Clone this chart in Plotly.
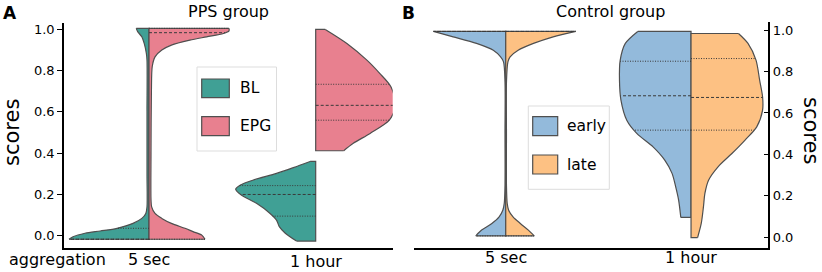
import numpy as np
import plotly.graph_objects as go

# ---------------- data ----------------
categories = ["5 sec", "1 hour"]
yticks = [0.0, 0.2, 0.4, 0.6, 0.8, 1.0]

# PPS group: density profiles (score level, relative half-width) and quartiles
pps_bl_5s_y = [-0.017, -0.005, 0.012, 0.023, 0.036, 0.06, 0.084, 0.108, 0.14, 0.3, 0.6, 0.85, 0.884, 0.932, 0.964, 0.988, 1.005]
pps_bl_5s_w = [1.0, 0.95, 0.8, 0.61, 0.4, 0.2, 0.09, 0.04, 0.025, 0.025, 0.025, 0.025, 0.033, 0.06, 0.09, 0.14, 0.16]
pps_bl_5s_q = [-0.017, -0.017, 0.036]

pps_epg_5s_y = [-0.017, 0.003, 0.02, 0.036, 0.06, 0.084, 0.108, 0.14, 0.173, 0.4, 0.7, 0.819, 0.867, 0.9, 0.924, 0.948, 0.964, 0.98, 0.993, 1.005]
pps_epg_5s_w = [0.7, 0.66, 0.55, 0.45, 0.28, 0.16, 0.075, 0.033, 0.025, 0.025, 0.03, 0.04, 0.075, 0.16, 0.28, 0.51, 0.72, 0.93, 1.0, 1.0]
pps_epg_5s_q = [-0.017, 0.984, 1.005]

pps_bl_1h_y = [-0.026, 0.012, 0.044, 0.076, 0.108, 0.157, 0.197, 0.225, 0.246, 0.27, 0.302, 0.33, 0.36]
pps_bl_1h_w = [0.24, 0.38, 0.455, 0.49, 0.57, 0.74, 0.93, 1.0, 0.94, 0.78, 0.49, 0.28, 0.07]
pps_bl_1h_q = [0.095, 0.2, 0.243]

pps_epg_1h_y = [0.412, 0.448, 0.496, 0.56, 0.632, 0.722, 0.787, 0.851, 0.932, 1.0]
pps_epg_1h_w = [0.35, 0.47, 0.68, 0.92, 1.0, 0.94, 0.8, 0.64, 0.39, 0.12]
pps_epg_1h_q = [0.56, 0.632, 0.734]

# Control group
ctl_early_5s_y = [0.006, 0.034, 0.066, 0.098, 0.13, 0.163, 0.25, 0.5, 0.75, 0.847, 0.871, 0.903, 0.936, 0.968, 0.994]
ctl_early_5s_w = [0.41, 0.33, 0.19, 0.09, 0.04, 0.02, 0.01, 0.01, 0.01, 0.03, 0.07, 0.17, 0.4, 0.72, 0.99]
ctl_early_5s_q = [0.006, 0.994, 0.994]

ctl_late_5s_y = [0.006, 0.034, 0.066, 0.098, 0.13, 0.163, 0.25, 0.5, 0.75, 0.847, 0.871, 0.903, 0.936, 0.968, 0.994]
ctl_late_5s_w = [0.39, 0.31, 0.2, 0.1, 0.04, 0.02, 0.01, 0.01, 0.01, 0.03, 0.06, 0.17, 0.38, 0.65, 0.96]
ctl_late_5s_q = [0.006, 0.994, 0.994]

ctl_early_1h_y = [0.095, 0.179, 0.243, 0.308, 0.372, 0.436, 0.5, 0.565, 0.662, 0.758, 0.855, 0.936, 0.994]
ctl_early_1h_w = [0.14, 0.17, 0.21, 0.26, 0.36, 0.52, 0.74, 0.88, 0.96, 0.98, 0.97, 0.9, 0.73]
ctl_early_1h_q = [0.517, 0.683, 0.85]

ctl_late_1h_y = [-0.002, 0.066, 0.146, 0.211, 0.275, 0.34, 0.404, 0.469, 0.533, 0.614, 0.678, 0.758, 0.855, 0.936, 0.984]
ctl_late_1h_w = [0.09, 0.14, 0.17, 0.19, 0.24, 0.37, 0.56, 0.74, 0.9, 0.98, 0.98, 0.94, 0.89, 0.78, 0.65]
ctl_late_1h_q = [0.517, 0.675, 0.863]

# ---------------- styling ----------------
W, H = 822, 272
FONT = "DejaVu Sans"
C_BL, C_EPG = "#40a095", "#e8808f"
C_EARLY, C_LATE = "#93badb", "#fdc183"
OUT = "#4f4f4f"
HW_LEFT = 0.48    # max half-width in category units, left panel
HW_RIGHT = 0.394  # right panel

fig = go.Figure()


def add_half(xa, ya, center, side, ys, ws, hw, color):
    ys = np.asarray(ys, float)
    ws = np.asarray(ws, float)
    xe = center + side * ws * hw
    # centre line + flat ends
    fig.add_trace(go.Scatter(
        x=[xe[0], center, center, xe[-1]], y=[ys[0], ys[0], ys[-1], ys[-1]],
        mode="lines", line=dict(color=OUT, width=1.2), xaxis=xa, yaxis=ya,
        showlegend=False, hoverinfo="skip"))
    # curved edge, filled against the centre path
    fig.add_trace(go.Scatter(
        x=xe, y=ys, mode="lines", line=dict(color=OUT, width=1.2, shape="spline", smoothing=0.8),
        fill="tonextx", fillcolor=color, xaxis=xa, yaxis=ya,
        showlegend=False, hoverinfo="skip"))


def add_quartiles(xa, ya, center, side, ys, ws, hw, qs):
    for i, q in enumerate(qs):
        w = np.interp(q, ys, ws) * hw
        fig.add_trace(go.Scatter(
            x=[center, center + side * w], y=[q, q], mode="lines",
            line=dict(color="#3a3a3a", width=1, dash=("3px,2px" if i == 1 else "1px,1.5px")),
            xaxis=xa, yaxis=ya, showlegend=False, hoverinfo="skip"))


halves = [
    ("x", "y", 0, -1, pps_bl_5s_y, pps_bl_5s_w, pps_bl_5s_q, HW_LEFT, C_BL),
    ("x", "y", 0, 1, pps_epg_5s_y, pps_epg_5s_w, pps_epg_5s_q, HW_LEFT, C_EPG),
    ("x", "y", 1, -1, pps_bl_1h_y, pps_bl_1h_w, pps_bl_1h_q, HW_LEFT, C_BL),
    ("x", "y", 1, 1, pps_epg_1h_y, pps_epg_1h_w, pps_epg_1h_q, HW_LEFT, C_EPG),
    ("x2", "y2", 0, -1, ctl_early_5s_y, ctl_early_5s_w, ctl_early_5s_q, HW_RIGHT, C_EARLY),
    ("x2", "y2", 0, 1, ctl_late_5s_y, ctl_late_5s_w, ctl_late_5s_q, HW_RIGHT, C_LATE),
    ("x2", "y2", 1, -1, ctl_early_1h_y, ctl_early_1h_w, ctl_early_1h_q, HW_RIGHT, C_EARLY),
    ("x2", "y2", 1, 1, ctl_late_1h_y, ctl_late_1h_w, ctl_late_1h_q, HW_RIGHT, C_LATE),
]
for xa, ya, c, s, ys, ws, qs, hw, col in halves:
    add_half(xa, ya, c, s, ys, ws, hw, col)
for xa, ya, c, s, ys, ws, qs, hw, col in halves:
    add_quartiles(xa, ya, c, s, ys, ws, hw, qs)


def px(x):
    return x / W


def py(y):
    return 1 - y / H


axis_common = dict(showline=True, linecolor="black", linewidth=1.5, showgrid=False, zeroline=False,
                   tickfont=dict(family=FONT, size=13, color="black"))

fig.update_layout(
    width=W, height=H, margin=dict(l=0, r=0, t=0, b=0),
    paper_bgcolor="white", plot_bgcolor="white", showlegend=False,
    font=dict(family=FONT, color="black"),
    xaxis=dict(domain=[px(64), px(392.7)], range=[-0.51, 1.462], anchor="y",
               tickvals=[0, 1], ticktext=["", ""], ticks="", **axis_common),
    yaxis=dict(domain=[py(247.5), py(23)], range=[-0.057, 1.031], anchor="x",
               tickvals=yticks, tickformat=".1f", ticks="outside", ticklen=5, tickwidth=1.2,
               tickcolor="black", **axis_common),
    xaxis2=dict(domain=[px(414), px(768.3)], range=[-0.495, 1.417], anchor="y2",
                tickvals=[0, 1], ticktext=["", ""], ticks="", **axis_common),
    yaxis2=dict(domain=[py(248.3), py(21.7)], range=[-0.054, 1.041], anchor="x2", side="right",
                tickvals=yticks, tickformat=".1f", ticks="inside", ticklen=5, tickwidth=1.2,
                tickcolor="black", **axis_common),
)

ann = []
# panel letters and titles
ann.append(dict(text="<b>A</b>", x=px(10), y=py(13), font=dict(size=17, family=FONT)))
ann.append(dict(text="<b>B</b>", x=px(408), y=py(13), font=dict(size=17, family=FONT)))
ann.append(dict(text="PPS group", x=px(228), y=py(12), font=dict(size=16, family=FONT)))
ann.append(dict(text="Control group", x=px(610), y=py(12), font=dict(size=16, family=FONT)))
# y titles
ann.append(dict(text="scores", x=px(12), y=py(133), textangle=-90, font=dict(size=21, family=FONT)))
ann.append(dict(text="scores", x=px(811), y=py(130), textangle=90, font=dict(size=21, family=FONT)))
# left panel x label
ann.append(dict(text="aggregation", x=px(57), y=py(259), font=dict(size=16, family=FONT)))
for a in ann:
    a.update(xref="paper", yref="paper", showarrow=False, xanchor="center", yanchor="middle")

# category labels (positioned through the x axes)
cat_pos = [("x", 0, 259), ("x", 1, 261.5), ("x2", 0, 257), ("x2", 1, 257)]
for xr, i, ypix in cat_pos:
    ann.append(dict(text=categories[i], x=i, xref=xr, y=py(ypix), yref="paper", showarrow=False,
                    xanchor="center", yanchor="middle", font=dict(size=16, family=FONT)))

# legends (drawn as boxes + text)
shapes = []


def legend_box(x0, y0, x1, y1):
    shapes.append(dict(type="rect", xref="paper", yref="paper", x0=px(x0), x1=px(x1), y0=py(y1), y1=py(y0),
                       line=dict(color="#dddddd", width=1), fillcolor="white", layer="above"))


def legend_item(x0, y0, x1, y1, color, label, tx):
    shapes.append(dict(type="rect", xref="paper", yref="paper", x0=px(x0), x1=px(x1), y0=py(y1), y1=py(y0),
                       line=dict(color=OUT, width=1.2), fillcolor=color, layer="above"))
    ann.append(dict(text=label, x=px(tx), y=py((y0 + y1) / 2), xref="paper", yref="paper", showarrow=False,
                    xanchor="left", yanchor="middle", font=dict(size=15.5, family=FONT)))


legend_box(197, 67, 276.5, 151)
legend_item(201.7, 79, 229.3, 97.7, C_BL, "BL", 238)
legend_item(201.7, 116.7, 229.3, 135.7, C_EPG, "EPG", 238)
legend_box(528.3, 106, 609.3, 189.3)
legend_item(532.7, 116.7, 557.7, 135.7, C_EARLY, "early", 565)
legend_item(532.7, 155, 557.7, 174, C_LATE, "late", 565)

fig.update_layout(annotations=ann, shapes=shapes)
fig.write_html("out.html", config={"displayModeBar": False},
               post_script="document.body.style.margin='0';document.body.style.overflow='hidden';")
